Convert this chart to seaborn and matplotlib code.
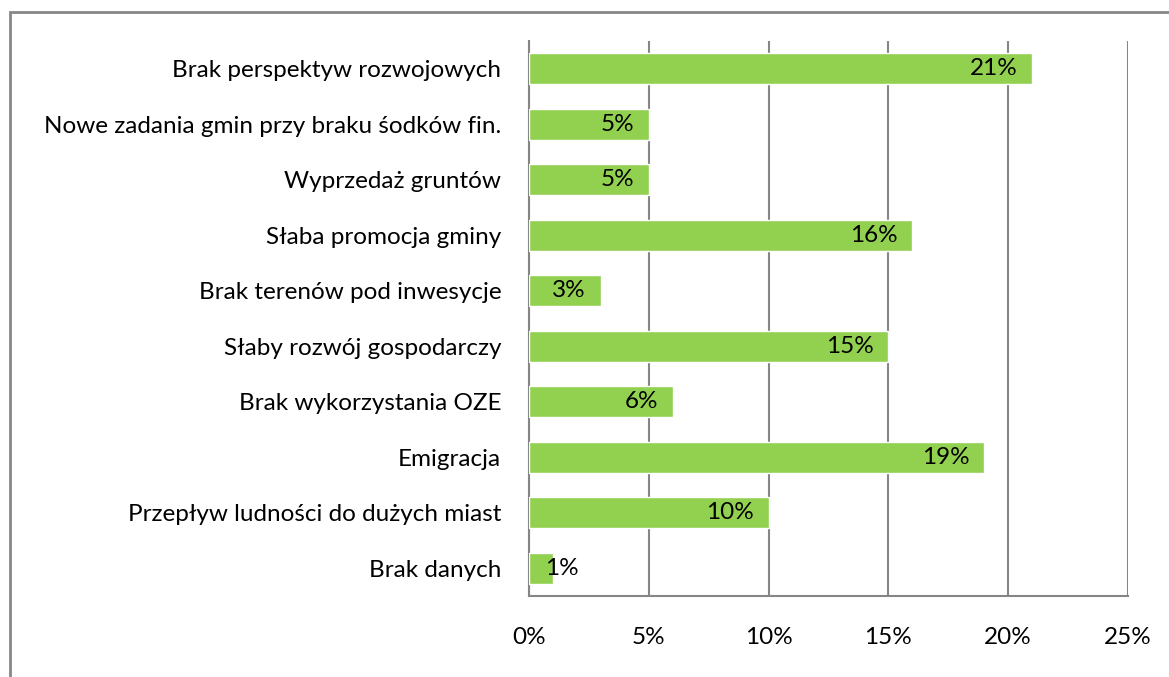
import matplotlib
matplotlib.use("Agg")
import matplotlib.pyplot as plt
from matplotlib.patches import Rectangle
import seaborn as sns
import pandas as pd

categories = [
    "Brak perspektyw rozwojowych",
    "Nowe zadania gmin przy braku śodków fin.",
    "Wyprzedaż gruntów",
    "Słaba promocja gminy",
    "Brak terenów pod inwesycje",
    "Słaby rozwój gospodarczy",
    "Brak wykorzystania OZE",
    "Emigracja",
    "Przepływ ludności do dużych miast",
    "Brak danych",
]
values = [21, 5, 5, 16, 3, 15, 6, 19, 10, 1]
x_ticks = [0, 5, 10, 15, 20, 25]
x_tick_labels = ["0%", "5%", "10%", "15%", "20%", "25%"]

df = pd.DataFrame({"kategoria": categories, "udzial": values})

sns.set_theme(style="white")
plt.rcParams["font.family"] = ["Lato", "DejaVu Sans"]

grey = "#868686"
fs = 17.5
fig = plt.figure(figsize=(11.69, 6.77), dpi=100)
ax = fig.add_axes([529 / 1169, 1 - 596 / 677, 599 / 1169, 555 / 677])

sns.barplot(data=df, x="udzial", y="kategoria", orient="h", color="#92D050",
            width=0.556, saturation=1, ax=ax, zorder=3)

ax.set_xlim(0, 25)
ax.set_xticks(x_ticks)
ax.set_xticklabels(x_tick_labels, fontsize=fs, color="#000000")
ax.tick_params(axis="x", length=0, pad=22)
ax.tick_params(axis="y", length=0, pad=20, labelsize=fs, labelcolor="#000000")
ax.set_xlabel("")
ax.set_ylabel("")

ax.xaxis.grid(True, color=grey, linewidth=1.5, zorder=0)
ax.set_axisbelow(True)
for side in ["top", "right"]:
    ax.spines[side].set_visible(False)
for side in ["left", "bottom"]:
    ax.spines[side].set_color(grey)
    ax.spines[side].set_linewidth(1.5)

# value labels at the inner end of each bar
for i, v in enumerate(values):
    label = f"{v}%"
    if v < 2:
        ax.text(0.65, i, label, ha="left", va="center", fontsize=fs,
                color="#000000", zorder=4)
    else:
        ax.text(v - 0.62, i, label, ha="right", va="center", fontsize=fs,
                color="#000000", zorder=4)

# outer frame of the chart area
fig.patches.append(Rectangle((10 / 1169, -0.05), 1.1, 1 - 12 / 677 + 0.05,
                             transform=fig.transFigure, fill=False,
                             edgecolor=grey, linewidth=2, zorder=0))

fig.savefig("out.png", dpi=100, facecolor="white")
